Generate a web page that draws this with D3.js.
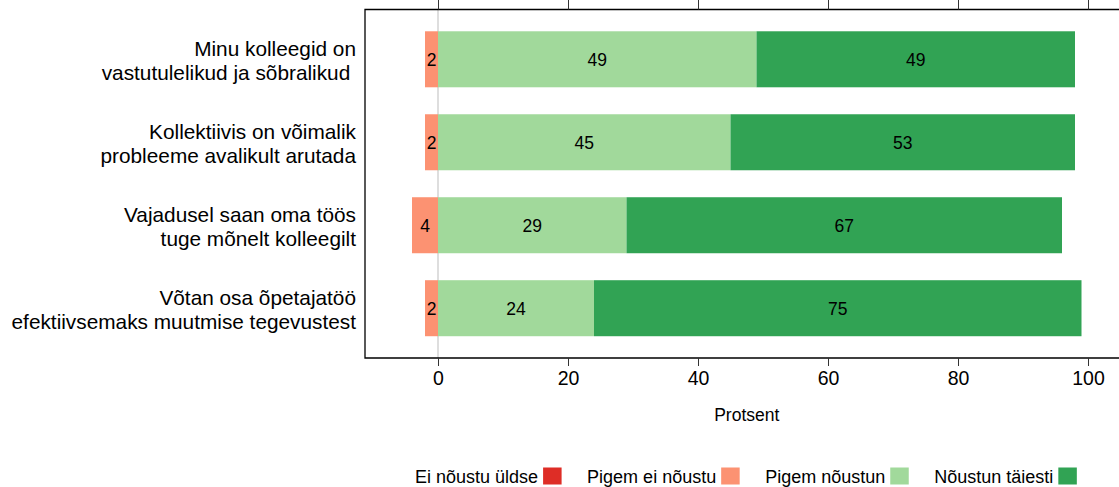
<!DOCTYPE html>
<html><head><meta charset="utf-8">
<script src="https://cdn.jsdelivr.net/npm/d3@7"></script>
<style>body{margin:0;background:#fff}svg{display:block;font-family:"Liberation Sans",Arial,sans-serif}</style>
</head><body>
<svg id="c" width="1119" height="487"></svg>
<script>
const categories = [
  ["Minu kolleegid on", "vastutulelikud ja sõbralikud "],
  ["Kollektiivis on võimalik", "probleeme avalikult arutada"],
  ["Vajadusel saan oma töös", "tuge mõnelt kolleegilt"],
  ["Võtan osa õpetajatöö", "efektiivsemaks muutmise tegevustest"]
];
const seriesNames = ["Ei nõustu üldse", "Pigem ei nõustu", "Pigem nõustun", "Nõustun täiesti"];
const eiNoustuYldse = [0, 0, 0, 0];
const pigemEiNoustu = [2, 2, 4, 2];
const pigemNoustun = [49, 45, 29, 24];
const noustunTaiesti = [49, 53, 67, 75];
const tickValues = [0, 20, 40, 60, 80, 100];
const colors = ["#de2d26", "#fc9272", "#a1d99b", "#31a354"];

(function () {
const svg = d3.select("#c");
const x = d3.scaleLinear().domain([0, 100]).range([438, 1088]);
const y = d3.scaleLinear().domain([-0.6, 3.6]).range([9.5, 358]);
const fLeft = 365, fRight = 1130, fTop = 9.5, fBottom = 358;
const barH = y(0.675) - y(0);

// zero line
svg.append("line").attr("x1", x(0)).attr("x2", x(0)).attr("y1", fTop).attr("y2", fBottom)
  .attr("stroke", "#bdbdbd").attr("stroke-width", 1);

// segments
const segs = [];
categories.forEach((c, i) => {
  const neg2 = pigemEiNoustu[i], neg1 = eiNoustuYldse[i];
  segs.push({i, s: 1, x0: -neg2, x1: 0, v: neg2});
  segs.push({i, s: 0, x0: -neg2 - neg1, x1: -neg2, v: neg1});
  segs.push({i, s: 2, x0: 0, x1: pigemNoustun[i], v: pigemNoustun[i]});
  segs.push({i, s: 3, x0: pigemNoustun[i], x1: pigemNoustun[i] + noustunTaiesti[i], v: noustunTaiesti[i]});
});
const shown = segs.filter(d => d.v > 0);
svg.append("g").selectAll("rect").data(shown).join("rect")
  .attr("x", d => x(d.x0)).attr("width", d => x(d.x1) - x(d.x0))
  .attr("y", d => y(d.i) - barH / 2).attr("height", barH)
  .attr("fill", d => colors[d.s]);
svg.append("g").selectAll("text").data(shown).join("text")
  .attr("x", d => (x(d.x0) + x(d.x1)) / 2).attr("y", d => y(d.i) + 6.5)
  .attr("text-anchor", "middle").attr("font-size", 17.5).attr("fill", "#000")
  .text(d => d.v);

// frame
svg.append("path").attr("d", `M${fRight},${fTop}H${fLeft}V${fBottom}H${fRight}`)
  .attr("fill", "none").attr("stroke", "#000").attr("stroke-width", 1.3);

// axes
const bx = svg.append("g").attr("transform", `translate(0,${fBottom})`)
  .call(d3.axisBottom(x).tickValues(tickValues).tickSize(8).tickSizeOuter(0).tickPadding(5));
bx.select(".domain").remove();
bx.selectAll("text").attr("font-size", 19.5).attr("font-family", "Liberation Sans, Arial, sans-serif").attr("fill", "#000");
bx.selectAll("line").attr("stroke", "#333");
const tx = svg.append("g").attr("transform", `translate(0,${fTop})`)
  .call(d3.axisTop(x).tickValues(tickValues).tickSize(9.5).tickFormat(""));
tx.select(".domain").remove();
tx.selectAll("line").attr("stroke", "#333");

svg.append("text").attr("x", x(47.5)).attr("y", 421).attr("text-anchor", "middle")
  .attr("font-size", 17.5).text("Protsent");

// category labels
const cl = svg.append("g");
categories.forEach((c, i) => {
  c.forEach((line, j) => {
    cl.append("text").attr("x", 356).attr("y", y(i) - 3 + j * 23.5)
      .attr("text-anchor", "end").attr("font-size", 20.8).style("white-space", "pre")
      .attr("xml:space", "preserve").text(line);
  });
});

// legend
const lg = svg.append("g");
let lx = 415;
seriesNames.forEach((n, k) => {
  const t = lg.append("text").attr("x", lx).attr("y", 483).attr("font-size", 18).text(n);
  const w = t.node().getComputedTextLength();
  lx += w + 5;
  lg.append("rect").attr("x", lx).attr("y", 467.5).attr("width", 18.5).attr("height", 17).attr("fill", colors[k]);
  lx += 18.5 + 25.5;
});
})();
</script>
</body></html>
